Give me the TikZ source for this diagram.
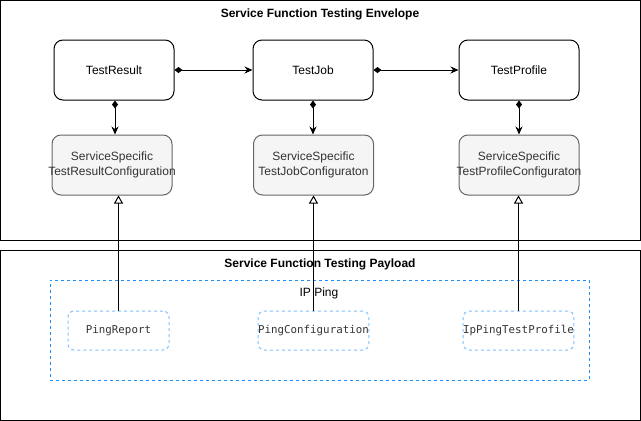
\documentclass[tikz,border=0pt]{standalone}
\usepackage{fontspec}
\setmainfont{Liberation Sans}
\newfontfamily\codefont{DejaVu Sans Mono}
\usetikzlibrary{arrows.meta}
\definecolor{cfgfill}{HTML}{F5F5F5}
\definecolor{cfgdraw}{HTML}{666666}
\definecolor{cfgtext}{HTML}{333333}
\definecolor{pingblue}{HTML}{1E8FFF}
\definecolor{pinglight}{HTML}{7FBFFF}
\begin{document}
\begin{tikzpicture}[x=1pt,y=-1pt, line width=1pt,
    every node/.style={font=\fontsize{12}{14}\selectfont},
    area/.style={draw,minimum width=640pt,inner sep=0pt},
    title/.style={font=\fontsize{12}{14}\selectfont\bfseries},
    cls/.style={draw,rounded corners=9pt,minimum width=120pt,minimum height=60pt,inner sep=0pt},
    cfg/.style={cls,fill=cfgfill,draw=cfgdraw},
    cfglabel/.style={text=cfgtext,align=center,inner sep=0pt,font=\fontsize{12}{15}\selectfont},
    impl/.style={draw=pinglight,dash pattern=on 3pt off 3pt,rounded corners=6pt,minimum width=101pt,minimum height=39pt,inner sep=0pt,text=cfgtext,font=\codefont\fontsize{10.8}{13}\selectfont},
    owns/.style={{Diamond[length=8pt,width=6pt]}-{Stealth[length=8pt,width=7pt]}},
    inherits/.style={-{Triangle[open,length=8pt,width=9pt]}}]
    \useasboundingbox (0,0) rectangle (641,421);
    \node[area,minimum height=240pt] (envelope) at (320.5,120.5) {};
    \node[title] (envtitle) at (320,14) {Service Function Testing Envelope};
    \node[area,minimum height=170pt] (payload) at (320.5,335.5) {};
    \node[title] (paytitle) at (320,264) {Service Function Testing Payload};
    \node[cls] (result) at (114,70) {TestResult};
    \node[cls] (job) at (313,70) {TestJob};
    \node[cls] (profile) at (519,70) {TestProfile};
    \node[cfg] (resultcfg) at (112,165) {};
    \node[cfglabel] at (resultcfg) {ServiceSpecific\\TestResultConfiguration};
    \node[cfg] (jobcfg) at (313.5,165) {};
    \node[cfglabel] at (jobcfg) {ServiceSpecific\\TestJobConfiguraton};
    \node[cfg] (profilecfg) at (519,165) {};
    \node[cfglabel] at (profilecfg) {ServiceSpecific\\TestProfileConfiguraton};
    \node[draw=pingblue,dash pattern=on 3pt off 3pt,minimum width=539pt,minimum height=100pt,inner sep=0pt] (ipping) at (319.5,330) {};
    \node (ippingtitle) at (319,293) {IP Ping};
    \node[impl] (pingreport) at (118.5,330.5) {PingReport};
    \node[impl] (pingcfg) at (313.5,330.5) {PingConfiguration};
    \node[impl] (pingprofile) at (518.5,330.5) {IpPingTestProfile};
    \draw[owns] (result.east) -- (job.west);
    \draw[owns] (job.east) -- (profile.west);
    \draw[owns] (result.south -| 115,0) -- (resultcfg.north -| 115,0);
    \draw[owns] (job.south) -- (jobcfg.north -| job.south);
    \draw[owns] (profile.south) -- (profilecfg.north);
    \draw[inherits] (pingreport.north) -- (pingreport.north |- resultcfg.south);
    \draw[inherits] (pingcfg.north) -- (pingcfg.north |- jobcfg.south);
    \draw[inherits] (pingprofile.north) -- (pingprofile.north |- profilecfg.south);
\end{tikzpicture}
\end{document}
